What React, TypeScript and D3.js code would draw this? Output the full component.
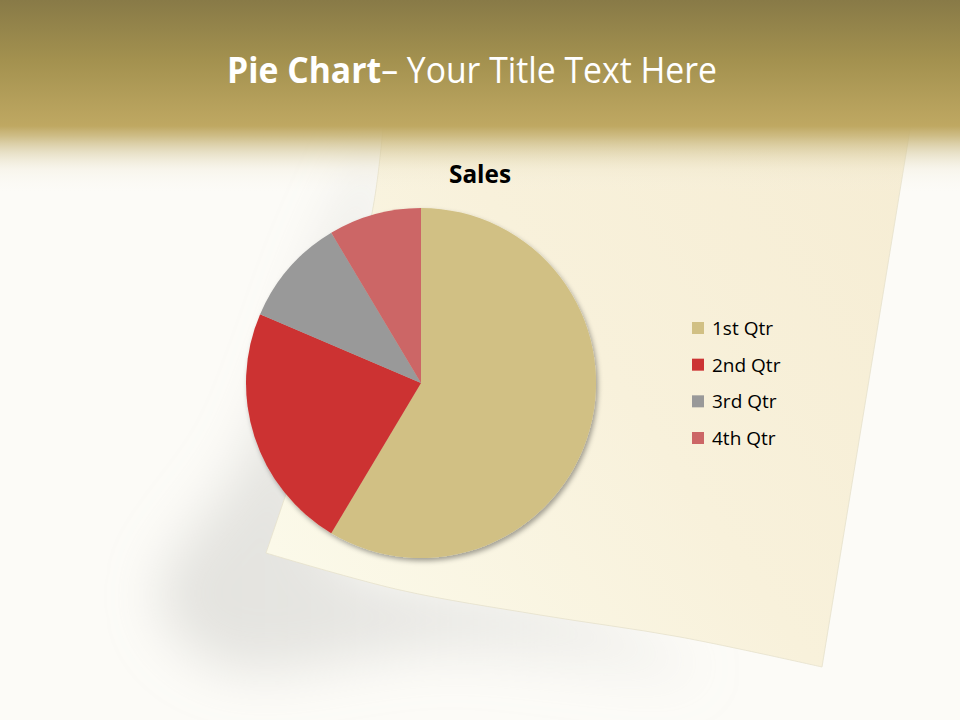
import React from "react";
import * as d3 from "d3";

const categories = ["1st Qtr", "2nd Qtr", "3rd Qtr", "4th Qtr"];
const sales = [8.2, 3.2, 1.4, 1.2];
const colors = ["#D1C084", "#CC3333", "#999999", "#CC6666"];
const chartTitle = "Sales";
const titleBold = "Pie Chart";
const titleRest = "– Your Title Text Here";

const W = 960;
const H = 720;
const cx = 421;
const cy = 383;
const R = 175;

// decorative paper shape
const paperRight: [number, number][] = [
  [385, 105],
  [914, 105],
  [822, 667],
];
const paperBottom: [number, number][] = [
  [822, 667],
  [680, 637],
  [540, 615],
  [400, 590],
  [266, 553],
];
const paperLeft: [number, number][] = [
  [266, 553],
  [330, 360],
  [372, 213],
  [385, 105],
];
const shadowPts: [number, number][] = [
  [382, 140],
  [330, 240],
  [250, 450],
  [160, 600],
  [220, 665],
  [450, 650],
  [700, 675],
  [600, 610],
  [330, 550],
];

export default function App() {
  const pie = d3
    .pie<number>()
    .sort(null)
    .value((d) => d)
    .startAngle(0)
    .endAngle(2 * Math.PI);
  const arcs = pie(sales);
  const arc = d3.arc<d3.PieArcDatum<number>>().innerRadius(0).outerRadius(R);

  const lineLin = d3.line();
  const lineCurve = d3.line().curve(d3.curveCatmullRom.alpha(0.5));
  const paperPath =
    lineLin(paperRight)! +
    lineCurve(paperBottom)!.replace(/^M[^C]*/, "") +
    lineCurve(paperLeft)!.replace(/^M[^C]*/, "") +
    "Z";

  const shadowPath = d3.line().curve(d3.curveCatmullRomClosed)(shadowPts)!;

  const legendY = d3
    .scalePoint<string>()
    .domain(categories)
    .range([328, 438]);

  return (
    <svg
      width={W}
      height={H}
      viewBox={`0 0 ${W} ${H}`}
      style={{ position: "absolute", left: 0, top: 0, display: "block" }}
    >
      <defs>
        <linearGradient id="band" x1="0" y1="0" x2="0" y2="200" gradientUnits="userSpaceOnUse">
          <stop offset="0" stopColor="#887A47" stopOpacity={1} />
          <stop offset="0.3" stopColor="#A3914F" stopOpacity={1} />
          <stop offset="0.63" stopColor="#BFA862" stopOpacity={1} />
          <stop offset="0.68" stopColor="#C6B273" stopOpacity={0.85} />
          <stop offset="0.76" stopColor="#D2C493" stopOpacity={0.5} />
          <stop offset="0.85" stopColor="#E8E0C4" stopOpacity={0.2} />
          <stop offset="0.96" stopColor="#F5F2E8" stopOpacity={0} />
        </linearGradient>
        <linearGradient id="paper" x1="900" y1="130" x2="280" y2="560" gradientUnits="userSpaceOnUse">
          <stop offset="0" stopColor="#F6EDD4" />
          <stop offset="0.5" stopColor="#F8F1DB" />
          <stop offset="1" stopColor="#FBF9E9" />
        </linearGradient>
        <linearGradient id="shadowGrad" x1="150" y1="0" x2="800" y2="0" gradientUnits="userSpaceOnUse">
          <stop offset="0" stopColor="#CACAC6" stopOpacity={0.5} />
          <stop offset="0.45" stopColor="#CFCFCB" stopOpacity={0.45} />
          <stop offset="1" stopColor="#D6D6D2" stopOpacity={0.05} />
        </linearGradient>
        <filter id="blurShadow" x="-30%" y="-30%" width="160%" height="160%">
          <feGaussianBlur stdDeviation="26" />
        </filter>
        <filter id="pieShadow" x="-20%" y="-20%" width="140%" height="140%">
          <feDropShadow dx="2" dy="3" stdDeviation="2.5" floodColor="#000" floodOpacity="0.35" />
        </filter>
      </defs>

      <rect x={0} y={0} width={W} height={H} fill="#FCFBF7" />
      <path d={shadowPath} fill="url(#shadowGrad)" filter="url(#blurShadow)" />
      <path d={paperPath} fill="url(#paper)" stroke="#E6E1CC" strokeWidth={0.8} />
      <rect x={0} y={0} width={W} height={200} fill="url(#band)" />

      <text
        x={227}
        y={83}
        fill="#FFFFFF"
        fontFamily="'Open Sans', sans-serif"
        fontSize={36}
        textLength={490}
        lengthAdjust="spacingAndGlyphs"
      >
        <tspan fontWeight={700}>{titleBold}</tspan>
        <tspan fontWeight={400}>{titleRest}</tspan>
      </text>

      <text
        x={449}
        y={183}
        fill="#000000"
        fontFamily="'Open Sans', sans-serif"
        fontWeight={700}
        fontSize={25}
        textLength={62}
        lengthAdjust="spacingAndGlyphs"
      >
        {chartTitle}
      </text>

      <g transform={`translate(${cx},${cy})`} filter="url(#pieShadow)">
        {arcs.map((a, i) => (
          <path key={categories[i]} d={arc(a)!} fill={colors[i]} />
        ))}
      </g>

      <g>
        {categories.map((c, i) => (
          <g key={c} transform={`translate(0,${legendY(c)})`}>
            <rect x={692} y={-6} width={12} height={12} fill={colors[i]} />
            <text
              x={712}
              y={7}
              fill="#000000"
              fontFamily="'Open Sans', sans-serif"
              fontSize={19}
            >
              {c}
            </text>
          </g>
        ))}
      </g>
    </svg>
  );
}
